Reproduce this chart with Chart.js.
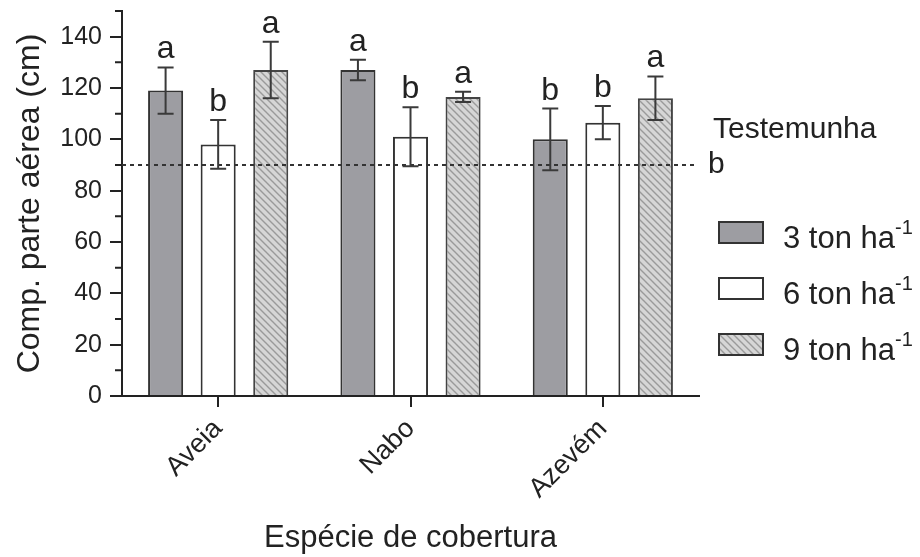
<!DOCTYPE html>
<html>
<head>
<meta charset="utf-8">
<script src="https://cdn.jsdelivr.net/npm/chart.js@4.4.0/dist/chart.umd.min.js"></script>
<style>
body { margin: 0; background: #fff; }
</style>
</head>
<body>
<canvas id="altura" width="920" height="557"></canvas>
<script>
// dados
var especies = ['Aveia', 'Nabo', 'Azevém'];
var doses = ['3 ton ha', '6 ton ha', '9 ton ha'];
var media3 = [119, 127, 100];
var media6 = [98, 101, 106.5];
var media9 = [127, 116.5, 116];
var erro3 = [9, 4, 12];
var erro6 = [9.5, 11.5, 6.5];
var erro9 = [11, 2, 8.5];
var letras3 = ['a', 'a', 'b'];
var letras6 = ['b', 'b', 'b'];
var letras9 = ['a', 'a', 'a'];
var testemunha = 90;
var yTicks = [0, 20, 40, 60, 80, 100, 120, 140];
var yMinor = [10, 30, 50, 70, 90, 110, 130, 150];

var fonte = 'Liberation Sans, Arial, sans-serif';
var preto = '#222';

function hachura() {
    var c = document.createElement('canvas');
    c.width = 7; c.height = 7;
    var g = c.getContext('2d');
    g.fillStyle = '#d6d6d6';
    g.fillRect(0, 0, 7, 7);
    g.strokeStyle = '#9a9a9a';
    g.lineWidth = 1.4;
    g.beginPath();
    g.moveTo(-1, -1); g.lineTo(8, 8);
    g.moveTo(-8, -1); g.lineTo(1, 8);
    g.moveTo(6, -1); g.lineTo(15, 8);
    g.stroke();
    return g.createPattern(c, 'repeat');
}

var erros = [erro3, erro6, erro9];
var letras = [letras3, letras6, letras9];

// linha da testemunha, barras de erro e letras
var extras = {
    id: 'extras',
    afterDatasetsDraw: function (chart) {
        var ctx = chart.ctx;
        var y = chart.scales.y;
        var area = chart.chartArea;
        ctx.save();
        // testemunha
        var yt = y.getPixelForValue(testemunha);
        ctx.strokeStyle = '#333';
        ctx.lineWidth = 2;
        ctx.setLineDash([4, 4]);
        ctx.beginPath();
        ctx.moveTo(area.left, yt);
        ctx.lineTo(area.right - 2, yt);
        ctx.stroke();
        ctx.setLineDash([]);
        ctx.fillStyle = preto;
        ctx.font = '30px ' + fonte;
        ctx.textAlign = 'left';
        ctx.textBaseline = 'alphabetic';
        ctx.fillText('Testemunha', area.right + 14, yt - 27);
        ctx.fillText('b', area.right + 9, yt + 8);

        // barras de erro
        chart.data.datasets.forEach(function (ds, i) {
            var meta = chart.getDatasetMeta(i);
            meta.data.forEach(function (bar, j) {
                var v = ds.data[j];
                var e = erros[i][j];
                var y1 = y.getPixelForValue(v + e);
                var y2 = y.getPixelForValue(v - e);
                ctx.strokeStyle = '#3a3a3a';
                ctx.lineWidth = 2;
                ctx.beginPath();
                ctx.moveTo(bar.x, y1); ctx.lineTo(bar.x, y2);
                ctx.moveTo(bar.x - 8, y1); ctx.lineTo(bar.x + 8, y1);
                ctx.moveTo(bar.x - 8, y2); ctx.lineTo(bar.x + 8, y2);
                ctx.stroke();
                ctx.fillStyle = preto;
                ctx.font = '32px ' + fonte;
                ctx.textAlign = 'center';
                ctx.fillText(letras[i][j], bar.x, y1 - 9);
            });
        });
        ctx.restore();
    },
    afterDraw: function (chart) {
        var ctx = chart.ctx;
        var y = chart.scales.y;
        var area = chart.chartArea;
        ctx.save();
        // marcas menores do eixo y
        ctx.strokeStyle = preto;
        ctx.lineWidth = 2;
        ctx.beginPath();
        yMinor.forEach(function (v) {
            var p = y.getPixelForValue(v);
            ctx.moveTo(area.left - 7, p);
            ctx.lineTo(area.left, p);
        });
        ctx.stroke();

        // legenda
        var lx = area.right + 20;
        var ly = 233;
        chart.data.datasets.forEach(function (ds, i) {
            var cy = ly + i * 56;
            ctx.fillStyle = ds.backgroundColor;
            ctx.fillRect(lx, cy - 11, 44, 21);
            ctx.strokeStyle = '#333';
            ctx.lineWidth = 2;
            ctx.strokeRect(lx, cy - 11, 44, 21);
            ctx.fillStyle = preto;
            ctx.font = '31px ' + fonte;
            ctx.textAlign = 'left';
            ctx.textBaseline = 'alphabetic';
            ctx.fillText(ds.label, lx + 64, cy + 15);
            var w = ctx.measureText(ds.label).width;
            ctx.font = '20px ' + fonte;
            ctx.fillText('-1', lx + 64 + w, cy + 1);
        });
        ctx.restore();
    }
};

var ctx = document.getElementById('altura').getContext('2d');
var grafico = new Chart(ctx, {
    type: 'bar',
    data: {
        labels: especies,
        datasets: [{
            label: doses[0],
            data: media3,
            backgroundColor: '#9d9da2',
            borderColor: '#333',
            borderWidth: 2
        }, {
            label: doses[1],
            data: media6,
            backgroundColor: '#ffffff',
            borderColor: '#333',
            borderWidth: 2
        }, {
            label: doses[2],
            data: media9,
            backgroundColor: hachura(),
            borderColor: '#444',
            borderWidth: 2
        }]
    },
    options: {
        responsive: false,
        animation: false,
        layout: {
            padding: {
                left: 0,
                right: 221,
                top: 11,
                bottom: 0
            }
        },
        datasets: {
            bar: {
                categoryPercentage: 0.82,
                barPercentage: 0.667
            }
        },
        plugins: {
            legend: { display: false },
            tooltip: { enabled: false }
        },
        scales: {
            x: {
                grid: {
                    drawOnChartArea: false,
                    offset: false,
                    tickLength: 11,
                    color: preto,
                    lineWidth: 2
                },
                border: { color: preto, width: 2 },
                ticks: {
                    color: preto,
                    font: { family: fonte, size: 27 },
                    minRotation: 45,
                    maxRotation: 45,
                    padding: 6
                },
                title: {
                    display: true,
                    text: 'Espécie de cobertura',
                    color: preto,
                    font: { family: fonte, size: 31 },
                    padding: { top: 0, bottom: 0 }
                },
                afterFit: function (s) {
                    s.height = 161;
                    s.paddingLeft = 0;
                    s.paddingRight = 0;
                }
            },
            y: {
                min: 0,
                max: 150,
                afterBuildTicks: function (s) {
                    s.ticks = yTicks.map(function (v) { return { value: v }; });
                },
                grid: {
                    drawOnChartArea: false,
                    tickLength: 12,
                    color: preto,
                    lineWidth: 2
                },
                border: { color: preto, width: 2 },
                ticks: {
                    color: preto,
                    font: { family: fonte, size: 25 },
                    padding: 8
                },
                title: {
                    display: true,
                    text: 'Comp. parte aérea (cm)',
                    color: preto,
                    font: { family: fonte, size: 32 },
                    padding: { top: 11, bottom: 0 }
                },
                afterFit: function (s) {
                    s.width = 122;
                    s.paddingTop = 0;
                    s.paddingBottom = 0;
                }
            }
        }
    },
    plugins: [extras]
});
</script>
</body>
</html>
